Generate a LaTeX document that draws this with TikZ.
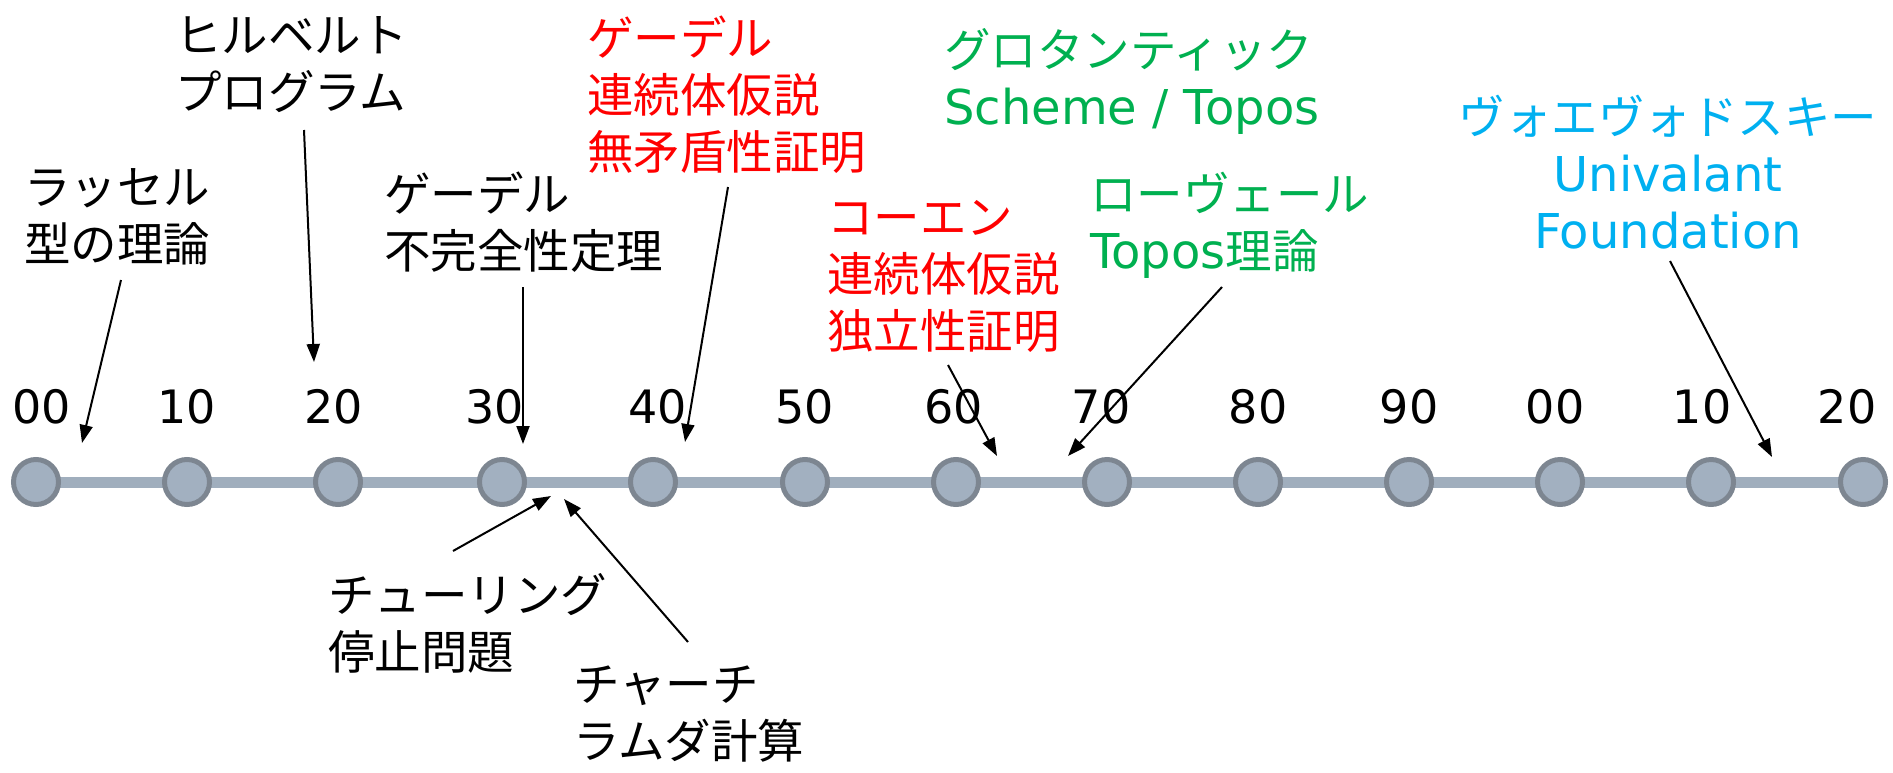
\documentclass[tikz,border=0pt]{standalone}
\usepackage{fontspec}
\setmainfont{DejaVu Sans}
\newfontfamily\cjk{Noto Sans CJK JP}
\newfontfamily\lat{DejaVu Sans}
\newcommand{\latbig}{\fontsize{48}{57}\selectfont\lat}
\usetikzlibrary{arrows.meta}
\definecolor{tlfill}{HTML}{A2B0C0}
\definecolor{tledge}{HTML}{7D8691}
\definecolor{tlline}{HTML}{A0AEBD}
\definecolor{jred}{HTML}{FF0000}
\definecolor{jgreen}{HTML}{00B050}
\definecolor{jblue}{HTML}{00B0F0}
\begin{document}
\begin{tikzpicture}[x=1pt,y=-1pt,
  dot/.style={circle,draw=tledge,fill=tlfill,line width=5pt,minimum size=45pt,inner sep=0pt},
  yr/.style={font=\fontsize{46}{46}\selectfont\lat, inner sep=0pt},
  lbl/.style={font=\fontsize{46.5}{57}\selectfont\cjk, align=left, anchor=north west, inner sep=0pt},
  arr/.style={-{Triangle[length=18pt,width=13pt]}, line width=2pt}]
\useasboundingbox (0,0) rectangle (1893,772);
% timeline positions
\coordinate (p1) at (36,482);
\coordinate (p2) at (187,482);
\coordinate (p3) at (338,482);
\coordinate (p4) at (502,482);
\coordinate (p5) at (653,482);
\coordinate (p6) at (805,482);
\coordinate (p7) at (956,482);
\coordinate (p8) at (1107,482);
\coordinate (p9) at (1258,482);
\coordinate (p10) at (1409,482);
\coordinate (p11) at (1560,482);
\coordinate (p12) at (1711,482);
\coordinate (p13) at (1863,482);
\draw[tlline, line width=11pt] (p1) -- (p13);
\foreach \i in {1,...,13} { \node[dot] (c\i) at (p\i) {}; }
% year labels
\node[yr] (y1) at (42,407) {00};
\node[yr] (y2) at (187,407) {10};
\node[yr] (y3) at (334,407) {20};
\node[yr] (y4) at (495,407) {30};
\node[yr] (y5) at (658,407) {40};
\node[yr] (y6) at (805,407) {50};
\node[yr] (y7) at (954,407) {60};
\node[yr] (y8) at (1101,407) {70};
\node[yr] (y9) at (1258,407) {80};
\node[yr] (y10) at (1409,407) {90};
\node[yr] (y11) at (1555,407) {00};
\node[yr] (y12) at (1702,407) {10};
\node[yr] (y13) at (1847,407) {20};
% labels
\node[lbl] (russell) at (24,168) {ラッセル\\型の理論};
\node[lbl] (hilbert) at (175,16) {ヒルベルト\\プログラム};
\node[lbl] (godelA) at (384,172) {ゲーデル\\不完全性定理};
\node[lbl, text=jred] (godelB) at (587,16) {ゲーデル\\連続体仮説\\無矛盾性証明};
\node[lbl, text=jred] (cohen) at (827,200) {コーエン\\連続体仮説\\独立性証明};
\node[lbl, text=jgreen] (groth) at (944,28) {グロタンティック\\{\latbig Scheme / Topos}};
\node[lbl, text=jgreen] (lawvere) at (1090,172) {ローヴェール\\{\latbig Topos}理論};
\node[lbl, text=jblue, align=center, anchor=north] (voev) at (1668,95) {ヴォエヴォドスキー\\{\latbig Univalant}\\{\latbig Foundation}};
\node[lbl] (turing) at (328,573) {チューリング\\停止問題};
\node[lbl] (church) at (573,666) {チャーチ\\ラムダ計算};
% arrow ends
\coordinate (a1s) at (121,280); \coordinate (a1e) at (82,443);
\coordinate (a2s) at (304,130); \coordinate (a2e) at (314,362);
\coordinate (a3s) at (523,287); \coordinate (a3e) at (523,444);
\coordinate (a4s) at (728,187); \coordinate (a4e) at (685,442);
\coordinate (a5s) at (948,365); \coordinate (a5e) at (997,456);
\coordinate (a6s) at (1222,287); \coordinate (a6e) at (1068,456);
\coordinate (a7s) at (1670,261); \coordinate (a7e) at (1772,457);
\coordinate (a8s) at (453,551); \coordinate (a8e) at (551,496);
\coordinate (a9s) at (688,642); \coordinate (a9e) at (564,499);
\draw[arr] (a1s) -- (a1e);
\draw[arr] (a2s) -- (a2e);
\draw[arr] (a3s) -- (a3e);
\draw[arr] (a4s) -- (a4e);
\draw[arr] (a5s) -- (a5e);
\draw[arr] (a6s) -- (a6e);
\draw[arr] (a7s) -- (a7e);
\draw[arr] (a8s) -- (a8e);
\draw[arr] (a9s) -- (a9e);
\end{tikzpicture}
\end{document}
